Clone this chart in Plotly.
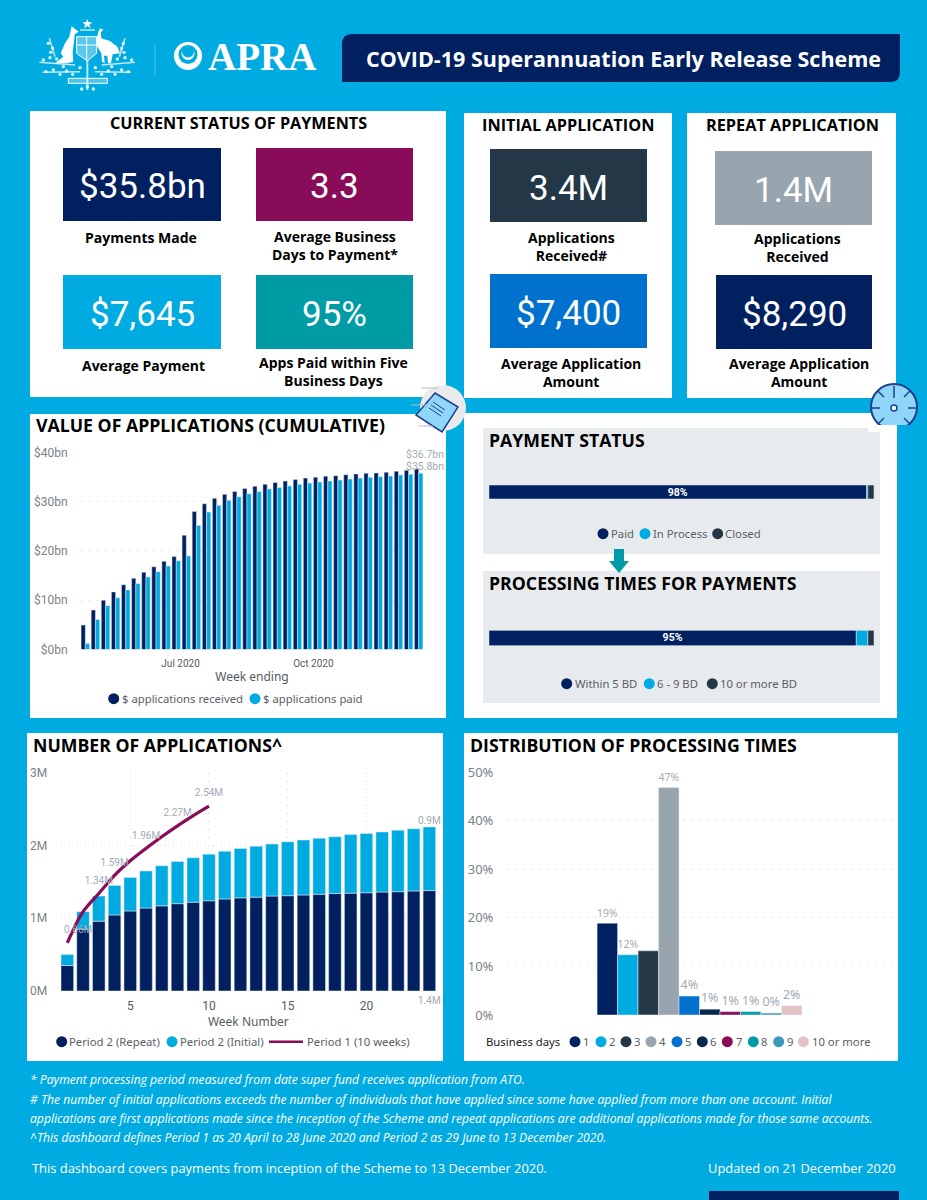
import plotly.graph_objects as go

W, H = 927, 1200
BG = "#00ABE2"
NAVY = "#002060"
SKY = "#00ABE2"
SLATE = "#243746"
GREY = "#98A4AE"
PLUM = "#890C58"
TEAL = "#009CA6"
BLUE = "#0072CE"
SEGOE = "Open Sans"
DIN = "Roboto"
LEGEND_FONT = "Noto Sans"
LABEL_GREY = "#A2ABB3"

# value of applications, $bn, week ending
weeks = ["2020-04-26", "2020-05-03", "2020-05-10", "2020-05-17", "2020-05-24", "2020-05-31",
         "2020-06-07", "2020-06-14", "2020-06-21", "2020-06-28", "2020-07-05", "2020-07-12",
         "2020-07-19", "2020-07-26", "2020-08-02", "2020-08-09", "2020-08-16", "2020-08-23",
         "2020-08-30", "2020-09-06", "2020-09-13", "2020-09-20", "2020-09-27", "2020-10-04",
         "2020-10-11", "2020-10-18", "2020-10-25", "2020-11-01", "2020-11-08", "2020-11-15",
         "2020-11-22", "2020-11-29", "2020-12-06", "2020-12-13"]
received = [4.95, 8.0, 10.0, 11.7, 13.15, 14.45, 15.7, 16.8, 17.9, 18.9, 23.2, 28.0, 29.6, 30.7,
            31.5, 32.1, 32.7, 33.15, 33.55, 33.9, 34.2, 34.5, 34.8, 35.0, 35.2, 35.3, 35.5, 35.65,
            35.8, 35.85, 36.0, 36.2, 36.4, 36.7]
paid = [1.2, 6.1, 8.9, 10.5, 12.1, 13.4, 14.7, 15.8, 16.95, 18.0, 19.0, 25.2, 27.9, 29.3, 30.3,
        31.0, 31.6, 32.1, 32.6, 32.9, 33.2, 33.55, 33.8, 34.0, 34.2, 34.4, 34.6, 34.8, 35.0, 35.1,
        35.25, 35.45, 35.6, 35.8]

# number of applications, millions
week_no = list(range(1, 25))
repeat_apps = [0.35, 0.85, 0.96, 1.045, 1.10, 1.14, 1.17, 1.20, 1.22, 1.24, 1.265, 1.28, 1.29,
               1.305, 1.31, 1.32, 1.33, 1.34, 1.345, 1.35, 1.36, 1.365, 1.375, 1.38]
initial_apps = [0.15, 0.24, 0.345, 0.405, 0.46, 0.51, 0.55, 0.58, 0.61, 0.64, 0.655, 0.68, 0.70,
                0.715, 0.74, 0.755, 0.77, 0.78, 0.805, 0.815, 0.825, 0.845, 0.855, 0.875]
period1_weeks = list(range(1, 11))
period1 = [0.66, 1.09, 1.34, 1.59, 1.79, 1.96, 2.12, 2.27, 2.41, 2.54]
period1_labels = ["", "", "1.34M", "1.59M", "", "1.96M", "", "2.27M", "", "2.54M"]

# distribution of processing times, %
bd_names = ["1", "2", "3", "4", "5", "6", "7", "8", "9", "10 or more"]
bd_values = [18.9, 12.4, 13.2, 46.8, 3.9, 1.2, 0.7, 0.7, 0.4, 1.9]
bd_labels = ["19%", "12%", "", "47%", "4%", "1%", "1%", "1%", "0%", "2%"]
bd_colors = [NAVY, SKY, SLATE, GREY, BLUE, "#06294F", PLUM, TEAL, "#3A9ABB", "#E3C3C6"]

# stacked status bars, %
status_names = ["Paid", "In Process", "Closed"]
status_values = [98.1, 0.3, 1.6]
times_names = ["Within 5 BD", "6 - 9 BD", "10 or more BD"]
times_values = [95.4, 3.0, 1.6]
stack_colors = [NAVY, SKY, SLATE]

# KPI tiles: value, tile colour
tiles = [("$35.8bn", NAVY), ("3.3", PLUM), ("$7,645", SKY), ("95%", TEAL),
         ("3.4M", SLATE), ("$7,400", BLUE), ("1.4M", GREY), ("$8,290", NAVY)]
tile_boxes = [(63, 148, 221, 221), (256, 148, 413, 221), (63, 275, 221, 349), (256, 275, 413, 349),
              (490, 149, 647, 222), (490, 274, 647, 348), (715, 151, 872, 225), (716, 275, 872, 349)]

DAY_MS = 86400000


def px(x):
    return x / W


def py(y):
    return 1 - y / H


def rect(x0, y0, x1, y1, color):
    return dict(type="rect", xref="paper", yref="paper", x0=px(x0), x1=px(x1), y0=py(y1), y1=py(y0),
                fillcolor=color, line_width=0, layer="below")


def circle(cx, cy, r, color, line_color=None, line_width=0):
    return dict(type="circle", xref="paper", yref="paper", x0=px(cx - r), x1=px(cx + r), y0=py(cy + r),
                y1=py(cy - r), fillcolor=color, line=dict(color=line_color, width=line_width), layer="below")


def poly(points, color, line_color=None, line_width=0):
    path = "M " + " L ".join(f"{px(a):.5f},{py(b):.5f}" for a, b in points) + " Z"
    return dict(type="path", xref="paper", yref="paper", path=path, fillcolor=color,
                line=dict(color=line_color, width=line_width), layer="below")


def segment(x0, y0, x1, y1, color, width=1):
    return dict(type="line", xref="paper", yref="paper", x0=px(x0), x1=px(x1), y0=py(y0), y1=py(y1),
                line=dict(color=color, width=width), layer="below")


def label(x, y, text, size=14, color="#000000", family=SEGOE, anchor="center"):
    return dict(xref="paper", yref="paper", x=px(x), y=py(y), text=text, showarrow=False, xanchor=anchor,
                yanchor="middle", font=dict(size=size, color=color, family=family), align=anchor,
                borderpad=0, borderwidth=0)


def legend_marks(y, entries, text_color="#5A6066"):
    # entries: (text, colour, circle centre x, text left x)
    marks, texts = [], []
    for text, color, cx, tx in entries:
        marks.append(circle(cx, y, 5.5, color))
        texts.append(label(tx, y, text, 11.3, text_color, LEGEND_FONT, "left"))
    return marks, texts


def crest_pts(points):
    # outline points traced on a 3x crop of the logo
    return [(30 + a / 3, 15 + b / 3) for a, b in points]


def crest_shapes():
    soft = "rgba(255,255,255,0.75)"
    out = [
        poly(crest_pts([(125, 33), (135, 42), (146, 50), (134, 58), (132, 80), (128, 110), (130, 140), (112, 145),
                        (75, 145), (100, 125), (92, 115), (105, 85), (118, 65), (122, 48)]), "white"),
        poly(crest_pts([(210, 40), (220, 44), (212, 52), (214, 70), (240, 78), (262, 95), (270, 115), (248, 118),
                        (243, 145), (234, 145), (232, 122), (222, 122), (224, 145), (216, 140), (214, 115),
                        (202, 95), (200, 70), (205, 50)]), "white"),
        # shield
        poly(crest_pts([(140, 65), (200, 65), (200, 115), (172, 138), (140, 115)]), "rgba(255,255,255,0.35)", "white", 1),
        segment(30 + 170 / 3, 15 + 65 / 3, 30 + 170 / 3, 15 + 135 / 3, "white", 1),
        segment(30 + 140 / 3, 15 + 90 / 3, 30 + 200 / 3, 15 + 90 / 3, "white", 1),
        poly(crest_pts([(172, 12), (176, 22), (187, 22), (178, 29), (182, 40), (172, 33), (162, 40), (166, 29), (157, 22), (168, 22)]), "white"),
        segment(30 + 150 / 3, 15 + 45 / 3, 30 + 195 / 3, 15 + 45 / 3, soft, 1.5),
        # motto scroll and stem
        poly(crest_pts([(115, 190), (232, 190), (232, 205), (115, 205)]), "rgba(255,255,255,0.3)", "white", 1),
        segment(30 + 172 / 3, 15 + 135 / 3, 30 + 172 / 3, 15 + 225 / 3, soft, 2),
        # branches
        segment(30 + 28 / 3, 15 + 142 / 3, 30 + 135 / 3, 15 + 150 / 3, soft, 1.5),
        segment(30 + 215 / 3, 15 + 150 / 3, 30 + 315 / 3, 15 + 142 / 3, soft, 1.5),
        segment(30 + 38 / 3, 15 + 172 / 3, 30 + 150 / 3, 15 + 170 / 3, soft, 1.5),
        segment(30 + 195 / 3, 15 + 170 / 3, 30 + 302 / 3, 15 + 172 / 3, soft, 1.5),
        segment(30 + 58 / 3, 15 + 70 / 3, 30 + 75 / 3, 15 + 125 / 3, soft, 1.5),
        segment(30 + 285 / 3, 15 + 70 / 3, 30 + 268 / 3, 15 + 125 / 3, soft, 1.5),
    ]
    # wattle blossom along the branches
    for a, b in [(40, 135), (60, 128), (80, 132), (55, 85), (68, 100), (62, 112), (48, 170), (70, 165), (90, 178),
                 (110, 168), (128, 178), (150, 158), (172, 215), (155, 222), (190, 222), (196, 158), (215, 178),
                 (235, 168), (255, 178), (275, 165), (295, 170), (280, 85), (275, 100), (282, 112), (262, 132),
                 (285, 128), (305, 135), (100, 155), (245, 155)]:
        out.append(circle(30 + a / 3, 15 + b / 3, 1.7, "rgba(255,255,255,0.85)"))
    return out


shapes = [
    # panels
    rect(30, 111, 446, 397, "white"), rect(464, 113, 672, 398, "white"), rect(687, 113, 896, 398, "white"),
    rect(30, 414, 446, 718, "white"), rect(464, 413, 897, 718, "white"),
    rect(27, 733, 443, 1061, "white"), rect(464, 733, 898, 1061, "white"),
    rect(483, 428, 880, 554, "#E8EBEE"), rect(483, 571, 880, 703, "#E8EBEE"),
    # arrow between status panels
    rect(614, 549, 624, 562, TEAL),
    poly([(609, 561), (629, 561), (619, 573)], TEAL),
    # title banner with two rounded corners
    dict(type="path", xref="paper", yref="paper", fillcolor=NAVY, line_width=0, layer="below",
         path=f"M {px(342)},{py(44)} Q {px(342)},{py(34)} {px(352)},{py(34)} L {px(900)},{py(34)} "
              f"L {px(900)},{py(72)} Q {px(900)},{py(82)} {px(890)},{py(82)} L {px(342)},{py(82)} Z"),
    rect(709, 1191, 899, 1200, NAVY),
    # APRA mark
    segment(155, 44, 155, 76, "#4FC3EC"),
    circle(188, 56, 14, "white"), circle(188, 54.5, 9.5, BG), circle(188, 53.5, 6.5, "white"), circle(188, 51.5, 6, BG),
    # document icon
    circle(443, 408, 23, "#E8EAEC"),
    poly([(435, 393), (458, 407), (442, 432), (416, 415)], "#8FD6F8", "#1F3F8F", 1.5),
    segment(429, 408, 441, 416, "#1F3F8F", 1), segment(431, 405, 443, 413, "#1F3F8F", 1), segment(433, 402, 445, 410, "#1F3F8F", 1),
    segment(421, 388, 438, 388, "#B9BEC3", 1), segment(411, 405, 428, 405, "#B9BEC3", 1), segment(418, 426, 433, 426, "#B9BEC3", 1),
    # gauge icon
    circle(894, 407, 23, "#8FD6F8", "#1F3F8F", 2),
    circle(894, 408, 3, "white", "#1F3F8F", 1.5),
    segment(894, 386, 894, 398, "#1F3F8F", 1.5),
    segment(871, 408, 880, 408, "#1F3F8F", 1.5), segment(908, 408, 917, 408, "#1F3F8F", 1.5),
    segment(878, 391, 884, 397, "#1F3F8F", 1.5), segment(910, 391, 904, 397, "#1F3F8F", 1.5),
    segment(878, 424, 884, 418, "#1F3F8F", 1.5), segment(910, 424, 904, 418, "#1F3F8F", 1.5),
    rect(868, 425, 897, 432, "white"), rect(897, 425, 922, 432, BG),
]
shapes += crest_shapes()
for box, (_, c) in zip(tile_boxes, tiles):
    shapes.append(rect(box[0], box[1], box[2], box[3], c))

annotations = [
    label(623, 58, "<b>COVID-19 Superannuation Early Release Scheme</b>", 21.5, "white"),
    label(261.5, 57, "<b>APRA</b>", 39, "white", "Liberation Serif"),
    label(238, 123, "<b>CURRENT STATUS OF PAYMENTS</b>", 16.2),
    label(568, 125, "<b>INITIAL APPLICATION</b>", 16.3),
    label(792, 125, "<b>REPEAT APPLICATION</b>", 16.3),
    label(36, 425, "<b>VALUE OF APPLICATIONS (CUMULATIVE)</b>", 17.7, anchor="left"),
    label(33, 745, "<b>NUMBER OF APPLICATIONS^</b>", 17.7, anchor="left"),
    label(470, 745, "<b>DISTRIBUTION OF PROCESSING TIMES</b>", 17.7, anchor="left"),
    label(489, 440, "<b>PAYMENT STATUS</b>", 17.7, anchor="left"),
    label(489, 583, "<b>PROCESSING TIMES FOR PAYMENTS</b>", 17.7, anchor="left"),
    label(141, 237, "<b>Payments Made</b>", 14),
    label(335, 245.5, "<b>Average Business<br>Days to Payment*</b>", 14),
    label(143, 366, "<b>Average Payment</b>", 14),
    label(333, 371.5, "<b>Apps Paid within Five<br>Business Days</b>", 14),
    label(571, 246.5, "<b>Applications<br>Received#</b>", 14),
    label(571, 372.5, "<b>Average Application<br>Amount</b>", 14),
    label(797, 247.5, "<b>Applications<br>Received</b>", 14),
    label(799, 372.5, "<b>Average Application<br>Amount</b>", 14),
    label(30, 1079, "<i>* Payment processing period measured from date super fund receives application from ATO.</i>", 12.15, "white", anchor="left"),
    label(30, 1099, "<i># The number of initial applications exceeds the number of individuals that have applied since some have applied from more than one account. Initial</i>", 12.15, "white", anchor="left"),
    label(30, 1118, "<i>applications are first applications made since the inception of the Scheme and repeat applications are additional applications made for those same accounts.</i>", 12.15, "white", anchor="left"),
    label(30, 1137, "<i>^This dashboard defines Period 1 as 20 April to 28 June 2020 and Period 2 as 29 June to 13 December 2020.</i>", 12.15, "white", anchor="left"),
    label(32, 1168, "This dashboard covers payments from inception of the Scheme to 13 December 2020.", 12.9, "white", anchor="left"),
    label(896, 1168, "Updated on 21 December 2020", 12.9, "white", anchor="right"),
    # end labels tied to the data
    dict(xref="x", yref="y", x=weeks[-1], y=received[-1], text="$36.7bn", showarrow=False, xshift=6, yshift=14,
         font=dict(size=10.5, color=LABEL_GREY, family=DIN)),
    dict(xref="x", yref="y", x=weeks[-1], y=paid[-1], text="$35.8bn", showarrow=False, xshift=6, yshift=7,
         font=dict(size=10.5, color=LABEL_GREY, family=DIN)),
    dict(xref="x2", yref="y2", x=24, y=repeat_apps[-1] + initial_apps[-1], text="0.9M", showarrow=False, yshift=6,
         font=dict(size=10, color=LABEL_GREY, family=DIN)),
    dict(xref="x2", yref="y2", x=24, y=0, text="1.4M", showarrow=False, yshift=-9,
         font=dict(size=10, color=LABEL_GREY, family=DIN)),
    dict(xref="x2", yref="y2", x=1, y=period1[0], text="0.66M", showarrow=False, xshift=11, yshift=13,
         font=dict(size=10, color=LABEL_GREY, family=DIN)),
]
for box, (value, _) in zip(tile_boxes, tiles):
    annotations.append(label((box[0] + box[2]) / 2, (box[1] + box[3]) / 2 + 2.5, value, 35, "white", DIN))

# legends are placed by hand so the swatches sit tight against their text
legend_rows = [
    (698.7, [("$ applications received", NAVY, 113.7, 121.7), ("$ applications paid", SKY, 255, 263.3)]),
    (533.7, [(status_names[0], NAVY, 603, 611.3), (status_names[1], SKY, 645, 652.7), (status_names[2], SLATE, 717.7, 725.3)]),
    (683.7, [(times_names[0], NAVY, 566.7, 575), (times_names[1], SKY, 649.3, 657.3), (times_names[2], SLATE, 712.3, 720.3)]),
    (1041.7, [("Period 2 (Repeat)", NAVY, 61.7, 69.3), ("Period 2 (Initial)", SKY, 172, 180)]),
    (1041.7, list(zip(bd_names, bd_colors,
                      [575, 601, 626, 651, 677, 702.3, 727.3, 753.3, 778.7, 803.3],
                      [583.3, 608.7, 634, 659, 685, 710.3, 735.7, 761.3, 786.7, 812.3]))),
]
for row_y, row in legend_rows:
    row_marks, row_texts = legend_marks(row_y, row)
    shapes += row_marks
    annotations += row_texts
shapes.append(segment(269, 1041.7, 303, 1041.7, PLUM, 2.5))
annotations.append(label(306.7, 1041.7, "Period 1 (10 weeks)", 11.3, "#5A6066", LEGEND_FONT, "left"))
annotations.append(label(485.7, 1041.7, "Business days", 11.3, "#222222", LEGEND_FONT, "left"))

fig = go.Figure()

# value of applications
fig.add_trace(go.Bar(x=weeks, y=received, name="$ applications received", marker_color=NAVY,
                     width=2.95 * DAY_MS, offset=-2.95 * DAY_MS, xaxis="x", yaxis="y"))
fig.add_trace(go.Bar(x=weeks, y=paid, name="$ applications paid", marker_color=SKY,
                     width=2.95 * DAY_MS, offset=0, xaxis="x", yaxis="y"))

# number of applications
fig.add_trace(go.Bar(x=week_no, y=repeat_apps, name="Period 2 (Repeat)", marker_color=NAVY, width=0.8,
                     xaxis="x2", yaxis="y2"))
fig.add_trace(go.Bar(x=week_no, y=initial_apps, base=repeat_apps, name="Period 2 (Initial)", marker_color=SKY,
                     width=0.8, xaxis="x2", yaxis="y2"))
fig.add_trace(go.Scatter(x=period1_weeks, y=period1, name="Period 1 (10 weeks)", mode="lines+markers+text",
                         text=period1_labels, textposition="top center",
                         textfont=dict(size=10, color=LABEL_GREY, family=DIN), marker=dict(size=10, opacity=0),
                         line=dict(color=PLUM, width=3.2, shape="spline"), xaxis="x2", yaxis="y2"))

# distribution of processing times
bar_w = 0.0532
for i, name in enumerate(bd_names):
    fig.add_trace(go.Bar(x=[0], y=[bd_values[i]], name=name, marker_color=bd_colors[i], width=bar_w,
                         offset=-5 * bar_w + i * bar_w, text=[bd_labels[i]], textposition="outside",
                         cliponaxis=False, textfont=dict(size=12.5, color=LABEL_GREY, family=LEGEND_FONT),
                         xaxis="x3", yaxis="y3"))

# status bars, each segment starts where the last one stopped
for values, names, xa, ya in [(status_values, status_names, "x4", "y4"), (times_values, times_names, "x5", "y5")]:
    start = 0
    for i, value in enumerate(values):
        text = [f"<b>{round(value)}%</b>"] if i == 0 else [""]
        fig.add_trace(go.Bar(y=[0], x=[value], base=start, orientation="h", name=names[i], width=1,
                             marker_color=stack_colors[i], text=text, textposition="inside",
                             insidetextanchor="middle", textangle=0, constraintext="none",
                             textfont=dict(size=10.5, color="white", family=DIN), xaxis=xa, yaxis=ya))
        start += value

grid = dict(showgrid=True, gridcolor="#CFD3D7", griddash="1px,7px", gridwidth=1, zeroline=False, showline=False,
            ticks="outside", tickcolor="rgba(0,0,0,0)", ticklen=10)
hidden = dict(visible=False, fixedrange=True)
x_ticks = dict(ticks="outside", tickcolor="rgba(0,0,0,0)", ticklen=4, zeroline=False)

fig.update_layout(
    width=W, height=H, autosize=False, margin=dict(l=0, r=0, t=0, b=0, autoexpand=False),
    paper_bgcolor=BG, plot_bgcolor="rgba(0,0,0,0)", barmode="overlay", showlegend=False,
    shapes=shapes, annotations=annotations,
    xaxis=dict(domain=[px(81), px(423)], anchor="y", type="date", range=["2020-04-23", "2020-12-16"],
               tickvals=["2020-07-01", "2020-10-01"], ticktext=["Jul 2020", "Oct 2020"], showgrid=False,
               tickfont=dict(size=10, color="#555B61", family=DIN), **x_ticks,
               title=dict(text="Week ending", font=dict(size=12, color="#555B61", family=LEGEND_FONT), standoff=5)),
    yaxis=dict(domain=[py(649.5), py(452.5)], anchor="x", range=[0, 40], tickvals=[0, 10, 20, 30, 40],
               ticktext=["$0bn", "$10bn", "$20bn", "$30bn", "$40bn"],
               tickfont=dict(size=12, color="#7A8289", family=DIN), **grid),
    xaxis2=dict(domain=[px(60.7), px(436)], anchor="y2", range=[0.58, 24.42], tickvals=[5, 10, 15, 20],
                showgrid=True, gridcolor="#CFD3D7", griddash="1px,7px",
                tickfont=dict(size=12, color="#555B61", family=DIN), **x_ticks,
                title=dict(text="Week Number", font=dict(size=12, color="#555B61", family=LEGEND_FONT), standoff=0)),
    yaxis2=dict(domain=[py(991), py(772.7)], anchor="x2", range=[0, 3], tickvals=[0, 1, 2, 3],
                ticktext=["0M", "1M", "2M", "3M"], tickfont=dict(size=12, color="#7A8289", family=DIN), **grid),
    xaxis3=dict(domain=[px(507), px(892)], anchor="y3", range=[-0.5, 0.5], **hidden),
    yaxis3=dict(domain=[py(1015), py(772)], anchor="x3", range=[0, 50], tickvals=[0, 10, 20, 30, 40, 50],
                ticktext=["0%", "10%", "20%", "30%", "40%", "50%"],
                tickfont=dict(size=13, color="#7A8289", family=LEGEND_FONT), **grid),
    xaxis4=dict(domain=[px(489), px(874)], anchor="y4", range=[0, 100], **hidden),
    yaxis4=dict(domain=[py(499), py(485)], anchor="x4", range=[-0.5, 0.5], **hidden),
    xaxis5=dict(domain=[px(489), px(874)], anchor="y5", range=[0, 100], **hidden),
    yaxis5=dict(domain=[py(645.7), py(630.3)], anchor="x5", range=[-0.5, 0.5], **hidden),
)

fig.write_html("out.html", config=dict(displayModeBar=False),
               post_script="document.body.style.margin='0';window.dispatchEvent(new Event('resize'));")
